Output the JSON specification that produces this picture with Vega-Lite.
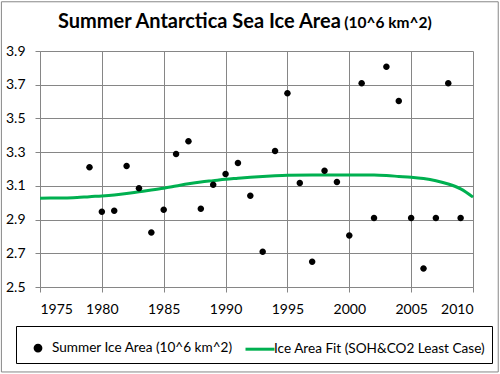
{
  "$schema": "https://vega.github.io/schema/vega-lite/v6.json",
  "width": 433,
  "height": 236,
  "autosize": {"type": "none"},
  "padding": {"left": 40, "top": 51, "right": 27, "bottom": 87},
  "background": "white",
  "datasets": {
    "obs": [
      {"year": 1979, "area": 3.21},
      {"year": 1980, "area": 2.946},
      {"year": 1981, "area": 2.952},
      {"year": 1982, "area": 3.218},
      {"year": 1983, "area": 3.086},
      {"year": 1984, "area": 2.823},
      {"year": 1985, "area": 2.958},
      {"year": 1986, "area": 3.289},
      {"year": 1987, "area": 3.364},
      {"year": 1988, "area": 2.964},
      {"year": 1989, "area": 3.106},
      {"year": 1990, "area": 3.171},
      {"year": 1991, "area": 3.236},
      {"year": 1992, "area": 3.041},
      {"year": 1993, "area": 2.709},
      {"year": 1994, "area": 3.307},
      {"year": 1995, "area": 3.649},
      {"year": 1996, "area": 3.117},
      {"year": 1997, "area": 2.65},
      {"year": 1998, "area": 3.189},
      {"year": 1999, "area": 3.123},
      {"year": 2000, "area": 2.806},
      {"year": 2001, "area": 3.709},
      {"year": 2002, "area": 2.91},
      {"year": 2003, "area": 3.806},
      {"year": 2004, "area": 3.603},
      {"year": 2005, "area": 2.91},
      {"year": 2006, "area": 2.61},
      {"year": 2007, "area": 2.91},
      {"year": 2008, "area": 3.709},
      {"year": 2009, "area": 2.91}
    ],
    "fit": [
      {"year": 1975, "area": 3.027},
      {"year": 1977, "area": 3.028},
      {"year": 1978, "area": 3.031},
      {"year": 1979, "area": 3.036},
      {"year": 1980, "area": 3.04},
      {"year": 1981, "area": 3.046},
      {"year": 1982, "area": 3.055},
      {"year": 1983, "area": 3.065},
      {"year": 1984, "area": 3.075},
      {"year": 1985, "area": 3.086},
      {"year": 1986, "area": 3.099},
      {"year": 1987, "area": 3.112},
      {"year": 1988, "area": 3.123},
      {"year": 1989, "area": 3.131},
      {"year": 1990, "area": 3.139},
      {"year": 1991, "area": 3.145},
      {"year": 1992, "area": 3.151},
      {"year": 1993, "area": 3.156},
      {"year": 1994, "area": 3.16},
      {"year": 1995, "area": 3.163},
      {"year": 1997, "area": 3.165},
      {"year": 2000, "area": 3.165},
      {"year": 2002, "area": 3.164},
      {"year": 2003, "area": 3.161},
      {"year": 2004, "area": 3.156},
      {"year": 2005, "area": 3.151},
      {"year": 2006, "area": 3.143},
      {"year": 2007, "area": 3.13},
      {"year": 2008, "area": 3.111},
      {"year": 2009, "area": 3.082},
      {"year": 2010, "area": 3.033}
    ],
    "main": [{"label": "Summer Antarctica Sea Ice Area"}],
    "unit": [{"label": "(10^6 km^2)"}]
  },
  "layer": [
    {
      "data": {"name": "unit"},
      "mark": {"type": "rect", "fill": null, "stroke": "#878787", "strokeWidth": 1},
      "encoding": {
        "x": {"datum": 1971.88, "type": "quantitative"},
        "x2": {"datum": 2012.04},
        "y": {"datum": 4.192, "type": "quantitative"},
        "y2": {"datum": 1.996}
      }
    },
    {
      "data": {"name": "fit"},
      "mark": {"type": "line", "strokeWidth": 3, "interpolate": "monotone"},
      "encoding": {
        "x": {"field": "year", "type": "quantitative"},
        "y": {"field": "area", "type": "quantitative"},
        "color": {"datum": "Ice Area Fit (SOH&CO2 Least Case)"}
      }
    },
    {
      "data": {"name": "obs"},
      "mark": {"type": "point", "filled": true, "opacity": 1, "size": 1056, "strokeWidth": 0},
      "encoding": {
        "x": {
          "field": "year", "type": "quantitative",
          "scale": {"domain": [1975, 2010], "nice": false, "zero": false},
          "axis": {
            "title": null,
            "values": [1975, 1980, 1985, 1990, 1995, 2000, 2005, 2010],
            "tickCount": 20,
            "format": "d",
            "labelPadding": 10
          }
        },
        "y": {
          "field": "area", "type": "quantitative",
          "scale": {"domain": [2.5, 3.9], "nice": false, "zero": false},
          "axis": {
            "title": null,
            "values": [2.5, 2.7, 2.9, 3.1, 3.3, 3.5, 3.7, 3.9],
            "tickCount": 20,
            "format": ".1f",
            "labelPadding": 10
          }
        },
        "color": {
          "datum": "Summer Ice Area (10^6 km^2)",
          "scale": {
            "domain": ["Summer Ice Area (10^6 km^2)", "Ice Area Fit (SOH&CO2 Least Case)"],
            "range": ["black", "#00B050"]
          },
          "legend": {
            "title": null,
            "orient": "none",
            "legendX": -24,
            "legendY": 275,
            "direction": "horizontal",
            "columns": 2,
            "columnPadding": 6,
            "padding": 6,
            "strokeColor": "black",
            "symbolSize": 841,
            "symbolStrokeWidth": 3,
            "labelOffset": -2,
            "labelFont": "Lato",
            "labelFontSize": 13.6,
            "labelColor": "black",
            "labelLimit": 400,
            "encode": {
              "symbols": {
                "update": {
                  "stroke": {"condition": {"test": "datum.value === 'Summer Ice Area (10^6 km^2)'", "value": "transparent"}, "value": "#00B050"},
                  "strokeWidth": {"condition": {"test": "datum.value === 'Summer Ice Area (10^6 km^2)'", "value": 0}, "value": 3},
                  "opacity": {"value": 1}
                }
              }
            }
          }
        },
        "shape": {
          "datum": "Summer Ice Area (10^6 km^2)",
          "scale": {
            "domain": ["Summer Ice Area (10^6 km^2)", "Ice Area Fit (SOH&CO2 Least Case)"],
            "range": ["M-0.2,0A0.2,0.2,0,1,1,0.2,0A0.2,0.2,0,1,1,-0.2,0Z", "stroke"]
          },
          "legend": null
        }
      }
    },
    {
      "data": {"name": "main"},
      "mark": {"type": "text", "align": "left", "baseline": "alphabetic", "font": "Lato", "fontSize": 20, "fontWeight": "bold", "color": "black"},
      "encoding": {
        "x": {"datum": 1976.45, "type": "quantitative"},
        "y": {"datum": 4.036, "type": "quantitative"},
        "text": {"field": "label"}
      }
    },
    {
      "data": {"name": "unit"},
      "mark": {"type": "text", "align": "left", "baseline": "alphabetic", "font": "Lato", "fontSize": 15.5, "fontWeight": "bold", "color": "black"},
      "encoding": {
        "x": {"datum": 1999.6, "type": "quantitative"},
        "y": {"datum": 4.036, "type": "quantitative"},
        "text": {"field": "label"}
      }
    }
  ],
  "config": {
    "view": {"stroke": null},
    "axis": {
      "domainColor": "#868686",
      "gridColor": "#868686",
      "gridOpacity": 1,
      "tickColor": "#868686",
      "tickSize": 5,
      "labelFont": "Lato",
      "labelFontSize": 14,
      "labelColor": "black",
      "labelOverlap": false,
      "grid": true
    }
  }
}
